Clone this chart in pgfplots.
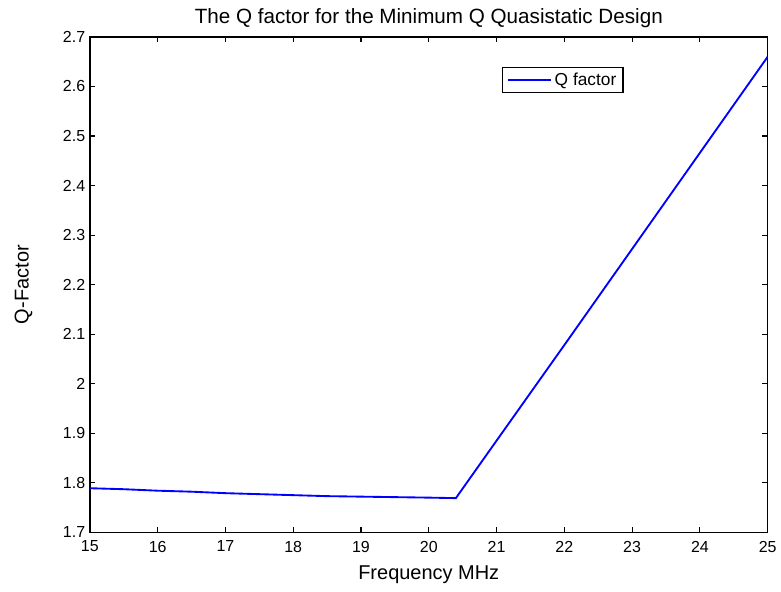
\documentclass[border=0pt]{standalone}
\usepackage{fontspec}
\setmainfont{Liberation Sans}
\usepackage{pgfplots}
\pgfplotsset{compat=1.18}

\begin{document}
\begin{tikzpicture}
\begin{axis}[
    scale only axis,
    width=509pt,
    height=372pt,
    xmin=15, xmax=25,
    ymin=1.7, ymax=2.7,
    xtick={15,16,...,25},
    ytick={1.7,1.8,1.9,2,2.1,2.2,2.3,2.4,2.5,2.6,2.7},
    yticklabels={1.7,1.8,1.9,2,2.1,2.2,2.3,2.4,2.5,2.6,2.7},
    tick align=inside,
    major tick length=4pt,
    tick style={black, line width=0.8pt},
    axis line style={line width=1pt},
    /pgf/number format/assume math mode=true,
    ticklabel style={font=\fontsize{12}{14}\selectfont},
    xticklabel style={yshift=-3pt},
    title={The Q factor for the Minimum Q Quasistatic Design},
    title style={font=\fontsize{15.5}{17}\selectfont, yshift=-3pt},
    xlabel={Frequency MHz},
    xlabel style={font=\fontsize{15}{17}\selectfont, yshift=-3pt},
    ylabel={Q-Factor},
    ylabel style={font=\fontsize{15}{17}\selectfont, yshift=16pt},
    legend style={at={(0.608,0.94)}, anchor=north west, draw=black,
        line width=1pt, font=\fontsize{13}{15}\selectfont,
        inner xsep=3pt, inner ysep=2pt},
    legend image post style={line width=1.4pt},
    legend image code/.code={\draw[#1] (0cm,0cm) -- (1.15cm,0cm);},
    legend cell align=left,
]
\addplot[blue, line width=1.4pt] coordinates {
    (15,1.789) (15.5,1.787) (16,1.784) (16.5,1.782) (17,1.779)
    (17.5,1.777) (18,1.775) (18.5,1.773) (19,1.772) (19.5,1.771)
    (20,1.770) (20.4,1.769) (21,1.885) (22,2.078) (23,2.272)
    (24,2.466) (25,2.660)
};
\legend{Q factor}
\end{axis}
\path[use as bounding box] ([shift={(-67.5pt,-44.25pt)}]current axis.south west)
    rectangle ([shift={(9pt,27.75pt)}]current axis.north east);
\end{tikzpicture}
\end{document}
